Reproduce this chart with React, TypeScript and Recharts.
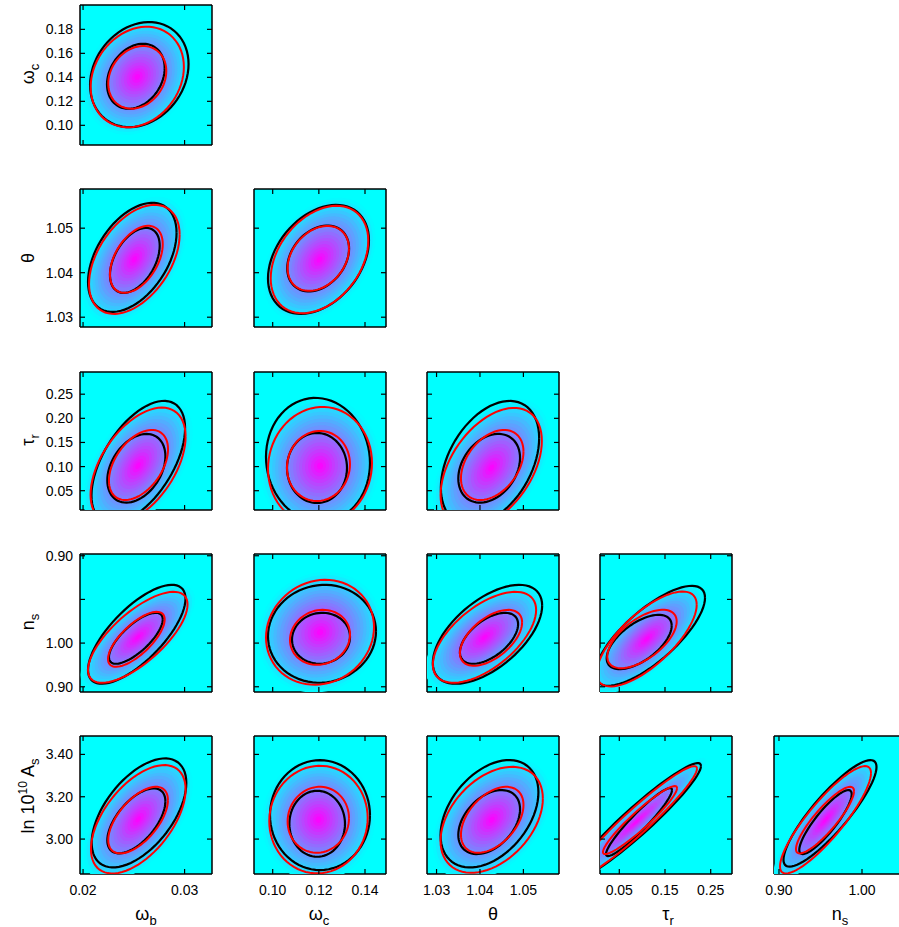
import { ScatterChart, Scatter, XAxis, YAxis } from "recharts";

type Ell = [number, number, number, number, number]; // cx, cy, x half-extent, y half-extent, correlation

// axes: columns carry the x parameter, rows the y parameter
const colDomains: [number, number][] = [
  [0.0197, 0.0327],
  [0.0919, 0.1491],
  [1.0278, 1.0582],
  [0.0078, 0.2966],
  [0.894, 1.053],
];
const colTicks = [
  [0.02, 0.03],
  [0.1, 0.12, 0.14],
  [1.03, 1.04, 1.05],
  [0.05, 0.15, 0.25],
  [0.9, 1.0],
];
const colTickLabels = [
  ["0.02", "0.03"],
  ["0.10", "0.12", "0.14"],
  ["1.03", "1.04", "1.05"],
  ["0.05", "0.15", "0.25"],
  ["0.90", "1.00"],
];
const rowDomains: [number, number][] = [
  [0.0836, 0.2003],
  [1.0278, 1.0588],
  [0.01, 0.296],
  [0.894, 1.052],
  [2.835, 3.487],
];
const rowTicks = [
  [0.1, 0.12, 0.14, 0.16, 0.18],
  [1.03, 1.04, 1.05],
  [0.05, 0.1, 0.15, 0.2, 0.25],
  [0.9, 0.95, 1.0, 1.05],
  [3.0, 3.2, 3.4],
];
const rowTickLabels = [
  ["0.10", "0.12", "0.14", "0.16", "0.18"],
  ["1.03", "1.04", "1.05"],
  ["0.05", "0.10", "0.15", "0.20", "0.25"],
  ["0.90", "1.00", "", "0.90"],
  ["3.00", "3.20", "3.40"],
];

// contours, panel order: row by row, left to right
const redOuter: Ell[] = [
  [0.02534, 0.1403, 0.00459, 0.0419, 0.2],
  [0.02505, 1.04299, 0.00446, 0.01225, 0.45],
  [0.12028, 1.04296, 0.02114, 0.01206, 0.35],
  [0.02542, 0.10187, 0.00468, 0.1203, 0.5],
  [0.1205, 0.10124, 0.02253, 0.1224, 0.05],
  [1.04259, 0.0971, 0.01166, 0.1245, 0.45],
  [0.02539, 0.95664, 0.0049, 0.05206, 0.72],
  [0.1205, 0.96236, 0.0234, 0.06007, 0.1],
  [1.04104, 0.95664, 0.01189, 0.05206, 0.6],
  [0.10996, 0.95469, 0.1094, 0.05435, 0.72],
  [0.02544, 3.0935, 0.00466, 0.256, 0.55],
  [0.11984, 3.0921, 0.02132, 0.2541, 0.03],
  [1.0427, 3.0911, 0.01178, 0.2503, 0.4],
  [0.08654, 3.0803, 0.1335, 0.2645, 0.955],
  [0.95602, 3.0911, 0.05482, 0.2536, 0.87],
];
const redInner: Ell[] = [
  [0.02534, 0.14, 0.00286, 0.0261, 0.2],
  [0.02525, 1.043, 0.0026, 0.00753, 0.45],
  [0.11976, 1.04321, 0.0133, 0.0073, 0.3],
  [0.02546, 0.10332, 0.00291, 0.0726, 0.45],
  [0.11984, 0.10124, 0.01365, 0.0726, 0.05],
  [1.04282, 0.10332, 0.0072, 0.0726, 0.38],
  [0.02525, 0.95435, 0.00279, 0.03146, 0.72],
  [0.1205, 0.95664, 0.013, 0.03146, 0.1],
  [1.04254, 0.95606, 0.00716, 0.032, 0.55],
  [0.09967, 0.95469, 0.0759, 0.03341, 0.6],
  [0.02542, 3.0897, 0.00294, 0.1573, 0.6],
  [0.11976, 3.0911, 0.0133, 0.1558, 0.05],
  [1.04282, 3.0911, 0.0072, 0.1558, 0.45],
  [0.0953, 3.0897, 0.081, 0.1606, 0.94],
  [0.95542, 3.0897, 0.03494, 0.1573, 0.87],
];
const blackOuter: Ell[] = [
  [0.02554, 0.1423, 0.00485, 0.0438, 0.2],
  [0.02485, 1.04344, 0.00436, 0.01225, 0.45],
  [0.11984, 1.04299, 0.02188, 0.01225, 0.35],
  [0.02544, 0.10954, 0.00461, 0.1266, 0.55],
  [0.11963, 0.1137, 0.02253, 0.1286, -0.05],
  [1.04231, 0.10747, 0.01132, 0.1286, 0.4],
  [0.02529, 0.96007, 0.0048, 0.05664, 0.72],
  [0.12136, 0.96064, 0.0234, 0.05606, 0.05],
  [1.04173, 0.96007, 0.01259, 0.05664, 0.58],
  [0.11718, 0.95835, 0.1204, 0.05721, 0.76],
  [0.02551, 3.1237, 0.00466, 0.2574, 0.55],
  [0.12049, 3.1133, 0.02166, 0.2597, 0],
  [1.04219, 3.1195, 0.01127, 0.2536, 0.4],
  [0.08873, 3.085, 0.14, 0.2739, 0.95],
  [0.96145, 3.1214, 0.05602, 0.2517, 0.87],
];
const blackInner: Ell[] = [
  [0.0252, 0.1409, 0.00284, 0.0271, 0.25],
  [0.0251, 1.04276, 0.00245, 0.0073, 0.45],
  [0.1197, 1.0432, 0.0134, 0.0074, 0.3],
  [0.02525, 0.09647, 0.00286, 0.0712, 0.35],
  [0.1192, 0.0971, 0.013, 0.0726, 0],
  [1.04212, 0.09647, 0.00711, 0.0712, 0.3],
  [0.0252, 0.95549, 0.00265, 0.02918, 0.74],
  [0.12093, 0.95549, 0.01257, 0.02918, 0.05],
  [1.04208, 0.95549, 0.0067, 0.02918, 0.55],
  [0.09354, 0.95126, 0.0711, 0.03112, 0.6],
  [0.02525, 3.086, 0.00286, 0.1535, 0.6],
  [0.11928, 3.0723, 0.01205, 0.1558, 0],
  [1.04212, 3.0803, 0.00711, 0.1511, 0.4],
  [0.09311, 3.0803, 0.0722, 0.1606, 0.94],
  [0.95602, 3.0803, 0.03157, 0.1511, 0.87],
];

// layout in page pixels
const colLefts = [80, 254, 427, 600, 774];
const rowTops = [5, 189, 372, 554, 736];
const rowHeights = [140, 138, 138, 138, 138];
const PW = 132;
const AXIS_W = 60;
const AXIS_H = 40;
const M = 12;
const TICK = 5;
const FONT = "'Liberation Sans', Arial, Helvetica, sans-serif";

const BANDS = 20;
const S_MAX = 1.15;

function ellipse(e: Ell, s = 1, n = 72) {
  const [cx, cy, ex, ey, rho] = e;
  const q = Math.sqrt(1 - rho * rho);
  const pts: { x: number; y: number }[] = [];
  for (let i = 0; i <= n; i++) {
    const t = (2 * Math.PI * i) / n;
    pts.push({
      x: cx + s * ex * Math.cos(t),
      y: cy + s * ey * (rho * Math.cos(t) + q * Math.sin(t)),
    });
  }
  return pts;
}

// matlab "cool" colormap
function cool(t: number) {
  const r = Math.round(255 * t);
  const g = Math.round(255 * (1 - t));
  return `rgb(${r},${g},255)`;
}

const noDot = () => <g />;

const axisLine = { stroke: "#000", strokeWidth: 1.5 };

// inward tick mark (matlab style) plus optional label outside the box
function makeTick(side: "left" | "right" | "top" | "bottom", ticks?: number[], labels?: string[]) {
  return (p: any) => {
    const { x, y, payload } = p;
    let text = "";
    if (ticks && labels) {
      const i = ticks.indexOf(payload.value);
      text = i >= 0 ? labels[i] : "";
    }
    let line;
    if (side === "left") line = { x1: x, x2: x + TICK, y1: y, y2: y };
    else if (side === "right") line = { x1: x, x2: x - TICK, y1: y, y2: y };
    else if (side === "top") line = { x1: x, x2: x, y1: y, y2: y + TICK };
    else line = { x1: x, x2: x, y1: y, y2: y - TICK };
    return (
      <g>
        <line {...line} stroke="#000" strokeWidth={1.2} />
        {text && side === "left" && (
          <text x={x - 7} y={y + 5} textAnchor="end" fontSize={14} fill="#000" fontFamily={FONT}>
            {text}
          </text>
        )}
        {text && side === "bottom" && (
          <text x={x} y={y + 21} textAnchor="middle" fontSize={14} fill="#000" fontFamily={FONT}>
            {text}
          </text>
        )}
      </g>
    );
  };
}

function Panel({ row, col, idx }: { row: number; col: number; idx: number }) {
  const h = rowHeights[row];
  const bands = [];
  for (let k = 0; k < BANDS; k++) {
    const s = (S_MAX * (BANDS - k)) / BANDS;
    const r = 2.45 * (s - S_MAX / (2 * BANDS));
    bands.push({ s, color: cool(Math.max(0, 1 - r / 2.8)) });
  }
  return (
    <>
      <div
        style={{
          position: "absolute",
          left: colLefts[col],
          top: rowTops[row],
          width: PW,
          height: h,
          background: "#00ffff",
        }}
      />
      <div style={{ position: "absolute", left: colLefts[col] - AXIS_W, top: rowTops[row] - M - 1 }}>
        <ScatterChart
          width={AXIS_W + PW + 1 + 2}
          height={M + 1 + h + AXIS_H}
          margin={{ top: M, right: 2, bottom: 0, left: 0 }}
        >
          {bands.map((b, k) => (
            <Scatter
              key={`b${k}`}
              data={ellipse(redOuter[idx], b.s, 48)}
              line={{ stroke: "none", fill: b.color }}
              lineType="joint"
              shape={noDot}
              isAnimationActive={false}
            />
          ))}
          <Scatter
            data={ellipse(blackOuter[idx])}
            line={{ stroke: "#000", strokeWidth: 2.2, fill: "none" }}
            lineType="joint"
            shape={noDot}
            isAnimationActive={false}
          />
          <Scatter
            data={ellipse(blackInner[idx])}
            line={{ stroke: "#000", strokeWidth: 2.2, fill: "none" }}
            lineType="joint"
            shape={noDot}
            isAnimationActive={false}
          />
          <Scatter
            data={ellipse(redOuter[idx])}
            line={{ stroke: "#ff0000", strokeWidth: 2, fill: "none" }}
            lineType="joint"
            shape={noDot}
            isAnimationActive={false}
          />
          <Scatter
            data={ellipse(redInner[idx])}
            line={{ stroke: "#ff0000", strokeWidth: 2, fill: "none" }}
            lineType="joint"
            shape={noDot}
            isAnimationActive={false}
          />
          <XAxis
            type="number"
            dataKey="x"
            domain={colDomains[col]}
            allowDataOverflow
            ticks={colTicks[col]}
            height={AXIS_H}
            tickSize={0}
            tickMargin={0}
            tickLine={false}
            axisLine={axisLine}
            tick={row === 4 ? makeTick("bottom", colTicks[col], colTickLabels[col]) : makeTick("bottom")}
            interval={0}
          />
          <XAxis
            xAxisId="t"
            orientation="top"
            type="number"
            dataKey="x"
            domain={colDomains[col]}
            allowDataOverflow
            ticks={colTicks[col]}
            height={1}
            tickSize={0}
            tickMargin={0}
            tickLine={false}
            axisLine={axisLine}
            tick={makeTick("top")}
            interval={0}
          />
          <YAxis
            type="number"
            dataKey="y"
            domain={rowDomains[row]}
            allowDataOverflow
            ticks={rowTicks[row]}
            width={AXIS_W}
            tickSize={0}
            tickMargin={0}
            tickLine={false}
            axisLine={axisLine}
            tick={col === 0 ? makeTick("left", rowTicks[row], rowTickLabels[row]) : makeTick("left")}
            interval={0}
          />
          <YAxis
            yAxisId="r"
            orientation="right"
            type="number"
            dataKey="y"
            domain={rowDomains[row]}
            allowDataOverflow
            ticks={rowTicks[row]}
            width={1}
            tickSize={0}
            tickMargin={0}
            tickLine={false}
            axisLine={axisLine}
            tick={makeTick("right")}
            interval={0}
          />
        </ScatterChart>
      </div>
    </>
  );
}

const panels: { row: number; col: number; idx: number }[] = [];
{
  let k = 0;
  for (let r = 0; r < 5; r++) for (let c = 0; c <= r; c++) panels.push({ row: r, col: c, idx: k++ });
}

const yTitleX = 34;
const yTitleY = [74, 258, 440, 622, 796];
const xTitleX = [146, 319, 493, 668, 840];
const xTitleY = 920;

export default function App() {
  return (
    <div
      style={{
        position: "absolute",
        left: 0,
        top: 0,
        width: 899,
        height: 927,
        overflow: "hidden",
        background: "#fff",
        fontFamily: FONT,
      }}
    >
      {panels.map((p) => (
        <Panel key={p.idx} {...p} />
      ))}
      <svg
        width={899}
        height={927}
        style={{ position: "absolute", left: 0, top: 0, pointerEvents: "none" }}
        fontFamily={FONT}
        fill="#000"
      >
        <text transform={`translate(${yTitleX},${yTitleY[0]}) rotate(-90)`} textAnchor="middle" fontSize={18}>
          ω<tspan dy={5} fontSize={13}>c</tspan>
        </text>
        <text transform={`translate(${yTitleX},${yTitleY[1]}) rotate(-90)`} textAnchor="middle" fontSize={18}>
          θ
        </text>
        <text transform={`translate(${yTitleX},${yTitleY[2]}) rotate(-90)`} textAnchor="middle" fontSize={18}>
          τ<tspan dy={5} fontSize={13}>r</tspan>
        </text>
        <text transform={`translate(${yTitleX},${yTitleY[3]}) rotate(-90)`} textAnchor="middle" fontSize={18}>
          n<tspan dy={5} fontSize={13}>s</tspan>
        </text>
        <text transform={`translate(${yTitleX},${yTitleY[4]}) rotate(-90)`} textAnchor="middle" fontSize={18}>
          ln 10<tspan dy={-7} fontSize={12}>10</tspan>
          <tspan dy={7} fontSize={18}> A</tspan>
          <tspan dy={5} fontSize={13}>s</tspan>
        </text>

        <text x={xTitleX[0]} y={xTitleY} textAnchor="middle" fontSize={18}>
          ω<tspan dy={5} fontSize={13}>b</tspan>
        </text>
        <text x={xTitleX[1]} y={xTitleY} textAnchor="middle" fontSize={18}>
          ω<tspan dy={5} fontSize={13}>c</tspan>
        </text>
        <text x={xTitleX[2]} y={xTitleY} textAnchor="middle" fontSize={18}>
          θ
        </text>
        <text x={xTitleX[3]} y={xTitleY} textAnchor="middle" fontSize={18}>
          τ<tspan dy={5} fontSize={13}>r</tspan>
        </text>
        <text x={xTitleX[4]} y={xTitleY} textAnchor="middle" fontSize={18}>
          n<tspan dy={5} fontSize={13}>s</tspan>
        </text>
      </svg>
    </div>
  );
}
